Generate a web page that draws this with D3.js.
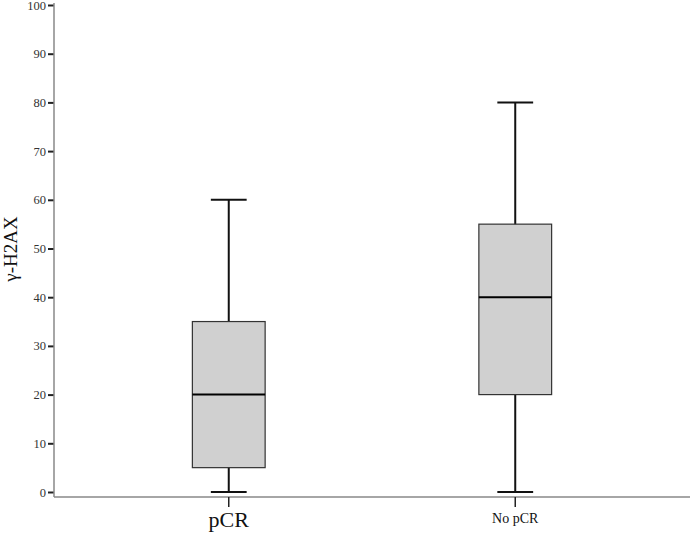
<!DOCTYPE html>
<html>
<head>
<meta charset="utf-8">
<script src="https://cdn.jsdelivr.net/npm/d3@7"></script>
<style>
  body { margin: 0; background: #fff; }
  text { font-family: "Liberation Serif", "DejaVu Serif", serif; }
</style>
</head>
<body>
<div id="chart"></div>
<script>
// data
var groups = ["pCR", "No pCR"];
var mins = [0, 0];
var q1s = [5, 20];
var medians = [20, 40];
var q3s = [35, 55];
var maxs = [60, 80];
var yTicks = [0, 10, 20, 30, 40, 50, 60, 70, 80, 90, 100];
var labelSizes = [22, 14];

var width = 694, height = 533;
var plotLeft = 54, plotRight = 690, plotTop = 5, plotBottom = 492, axisY = 497;

var svg = d3.select("#chart").append("svg")
      .attr("width", width)
      .attr("height", height);

var x = d3.scalePoint()
      .domain(groups)
      .range([plotLeft, plotRight])
      .padding(0.61);

var y = d3.scaleLinear()
      .domain([0, 100])
      .range([plotBottom, plotTop]);

var step = x.step();
var boxW = step * 0.254;
var capW = step * 0.125;

// y axis
var yAxis = svg.append("g")
      .attr("transform", "translate(" + plotLeft + ",0)")
      .call(d3.axisLeft(y).tickValues(yTicks).tickSize(6).tickPadding(2));
yAxis.select(".domain").remove();
yAxis.selectAll(".tick line").attr("stroke", "#222").attr("stroke-width", 2);
yAxis.selectAll(".tick text")
      .attr("font-family", "Liberation Serif, serif")
      .attr("font-size", "12.5px")
      .attr("fill", "#333");
svg.append("line")
      .attr("x1", plotLeft).attr("x2", plotLeft)
      .attr("y1", plotTop - 2).attr("y2", axisY)
      .attr("stroke", "#888").attr("stroke-width", 1.5);

// x axis
svg.append("line")
      .attr("x1", plotLeft).attr("x2", plotRight)
      .attr("y1", axisY).attr("y2", axisY)
      .attr("stroke", "#888").attr("stroke-width", 1.5);

groups.forEach(function (g, i) {
      var cx = x(g);
      svg.append("line")
            .attr("x1", cx).attr("x2", cx)
            .attr("y1", axisY).attr("y2", axisY + 10)
            .attr("stroke", "#222").attr("stroke-width", 1.5);
      svg.append("text")
            .attr("x", cx)
            .attr("y", i == 0 ? 527 : 523)
            .attr("text-anchor", "middle")
            .attr("font-size", labelSizes[i] + "px")
            .attr("fill", "#111")
            .text(g);
});

// boxes
groups.forEach(function (g, i) {
      var cx = x(g);
      var b = svg.append("g");
      // whisker
      b.append("line")
            .attr("x1", cx).attr("x2", cx)
            .attr("y1", y(maxs[i])).attr("y2", y(mins[i]))
            .attr("stroke", "#111").attr("stroke-width", 2);
      b.append("line")
            .attr("x1", cx - capW / 2).attr("x2", cx + capW / 2)
            .attr("y1", y(maxs[i])).attr("y2", y(maxs[i]))
            .attr("stroke", "#111").attr("stroke-width", 2);
      b.append("line")
            .attr("x1", cx - capW / 2).attr("x2", cx + capW / 2)
            .attr("y1", y(mins[i])).attr("y2", y(mins[i]))
            .attr("stroke", "#111").attr("stroke-width", 2);
      b.append("rect")
            .attr("x", cx - boxW / 2)
            .attr("y", y(q3s[i]))
            .attr("width", boxW)
            .attr("height", y(q1s[i]) - y(q3s[i]))
            .attr("fill", "#d0d0d0")
            .attr("stroke", "#333").attr("stroke-width", 1.2);
      b.append("line")
            .attr("x1", cx - boxW / 2).attr("x2", cx + boxW / 2)
            .attr("y1", y(medians[i])).attr("y2", y(medians[i]))
            .attr("stroke", "#000").attr("stroke-width", 2);
});

// y label
svg.append("text")
      .attr("transform", "translate(17,249) rotate(-90)")
      .attr("text-anchor", "middle")
      .attr("font-size", "19px")
      .attr("fill", "#111")
      .text("γ-H2AX");
</script>
</body>
</html>
